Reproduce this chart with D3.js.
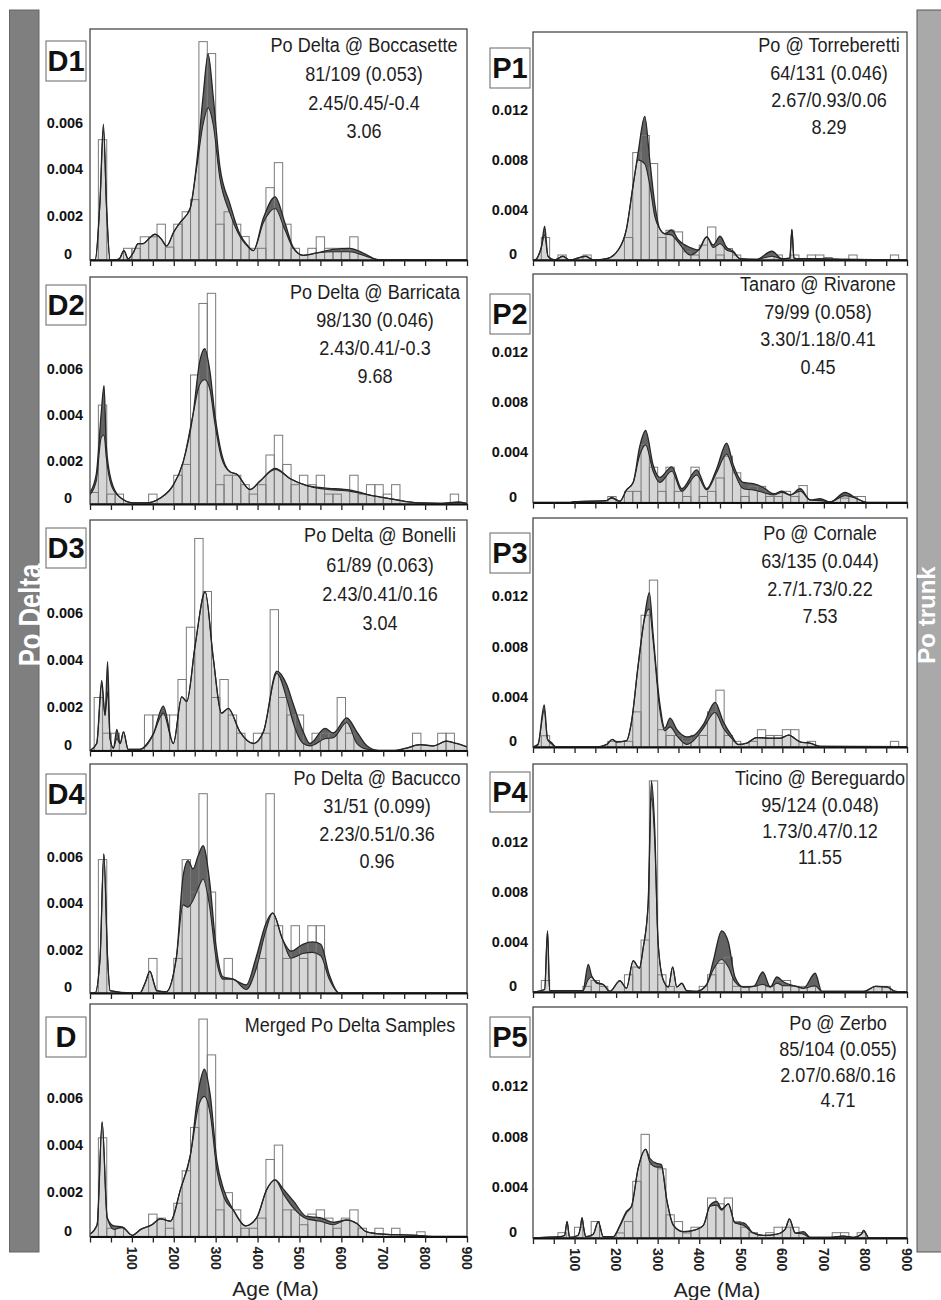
<!DOCTYPE html>
<html><head><meta charset="utf-8">
<script src="https://cdn.jsdelivr.net/npm/d3@7"></script>
<style>body{margin:0;background:#fff}svg{display:block}</style>
</head><body><svg id="c" width="941" height="1300"></svg>
<script>
// ---------- DATA (density values in units of 0.001) ----------
const leftTicks = [0, 2, 4, 6];
const rightTicks = [0, 4, 8, 12];
const xTickLabels = [100, 200, 300, 400, 500, 600, 700, 800, 900];

// D1 Po Delta @ Boccasette
const d1BarAge = [20,80,100,120,140,160,180,200,220,240,260,280,300,320,340,360,380,400,420,440,460,480,520,540,560,580,600,620];
const d1BarVal = [5.14,0.5,0.5,0.99,0.99,1.53,0.55,1.53,2.06,2.58,9.33,8.82,1.53,2.06,1.53,1.0,0.5,0.5,3.09,4.16,1.53,0.5,0.5,0.99,0.5,0.5,0.5,0.99];
const d1Age   = [0,12,24,32,40,48,60,70,81,91,103,115,127,140,155,170,183,200,215,239,255,270,282,294,310,334,358,375,390,414,442,465,485,509,541,581,620,652,684,700,900];
const d1Light = [0,0,2.5,5.6,2.0,0,0,0.05,0.4,0.05,0.3,0.7,0.7,0.9,1.1,0.9,0.6,1.2,1.6,2.2,4.0,5.8,6.5,5.8,3.5,2.0,1.0,0.6,0.4,1.6,2.2,1.3,0.5,0.2,0.3,0.35,0.35,0.2,0.02,0,0];
const d1Dark  = [0,0,2.6,5.8,2.1,0,0,0.05,0.4,0.05,0.3,0.7,0.7,0.9,1.1,0.9,0.6,1.2,1.6,2.2,4.2,7.0,8.8,7.0,4.0,2.4,1.1,0.65,0.4,1.8,2.7,1.6,0.55,0.2,0.3,0.45,0.5,0.3,0.03,0,0];

// D2 Po Delta @ Barricata
const d2BarAge = [0,20,40,60,140,200,220,240,260,280,300,320,340,360,380,400,420,440,460,480,500,520,540,560,580,620,640,660,680,700,720,860];
const d2BarVal = [0.5,4.30,0.43,0.43,0.43,1.25,1.72,5.61,8.72,9.16,0.84,1.25,1.25,0.84,0.43,0.84,2.13,2.99,1.72,0.84,1.25,0.84,1.25,0.43,0.43,1.25,0.43,0.84,0.84,0.43,0.84,0.43];
const d2Age   = [0,15,27,33.5,39,51,71,103,135,167,198,222,246,262,274,286,298,314,334,350,382,406,442,478,518,558,622,678,726,782,838,878,900];
const d2Light = [0.4,1.0,2.9,3.0,2.0,0.8,0.3,0.05,0.05,0.25,0.8,1.8,3.9,5.2,5.4,5.0,3.5,2.0,1.4,1.3,0.63,1.0,1.5,1.1,0.8,0.65,0.55,0.35,0.2,0.05,0.03,0.08,0.02];
const d2Dark  = [0.5,1.3,4.0,5.15,2.5,1.0,0.3,0.05,0.05,0.25,0.8,1.8,3.9,6.2,6.75,5.8,3.9,2.2,1.4,1.3,0.63,1.0,1.55,1.1,0.8,0.7,0.6,0.35,0.2,0.05,0.03,0.08,0.02];

// D3 Po Delta @ Bonelli
const d3BarAge = [10,30,50,130,150,170,190,210,230,250,270,290,310,330,350,390,410,430,450,470,490,530,550,570,590,610,770,830,850];
const d3BarVal = [2.27,0.74,0.74,1.52,1.52,1.52,1.52,3.04,5.28,9.08,6.81,2.27,3.04,1.52,0.74,0.74,0.74,6.03,2.27,1.52,1.52,0.74,0.74,0.74,2.27,0.74,0.74,0.74,0.74];
const d3Age   = [0,16,28,36,42,48,56,64,72,80,91,119,151,175,199,219,231,251,275,294,314,330,358,390,414,446,470,485,509,525,561,581,613,637,661,689,724,755,788,820,851,875,900];
const d3Light = [0,0.3,2.8,1.5,2.5,0.5,0.1,0.5,0.3,0.8,0.05,0.05,0.7,1.6,0.3,2.3,2.1,4.5,6.8,4.0,1.6,1.8,0.8,0.3,0.8,3.3,2.2,1.2,0.3,0.2,0.5,0.55,1.2,0.3,0.05,0,0,0.1,0.25,0.2,0.4,0.3,0.15];
const d3Dark  = [0,0.3,3.0,1.5,3.8,0.5,0.1,0.9,0.3,0.8,0.05,0.05,0.7,1.9,0.3,2.3,2.1,4.5,6.8,4.0,1.6,1.8,0.8,0.3,0.8,3.4,2.8,2.0,0.8,0.3,0.95,0.75,1.4,0.8,0.2,0,0,0.1,0.25,0.2,0.4,0.3,0.15];

// D4 Po Delta @ Bacucco
const d4BarAge = [20,140,200,220,240,260,280,320,400,420,440,460,480,500,520,540];
const d4BarVal = [5.75,1.49,1.49,5.75,4.35,8.59,4.35,1.49,1.49,8.59,2.90,1.49,2.90,1.49,2.90,2.90];
const d4Age   = [0,12,24,33,42,48,100,119,133,143,153,159,182,206,222,234,246,258,270,285,301,317,341,373,396,420,436,460,480,508,531,551,571,595,900];
const d4Light = [0,0,1.5,6.0,1.5,0.1,0,0,0.5,0.94,0.4,0.1,0.05,1.5,3.8,3.7,4.0,4.5,4.9,3.8,1.5,0.6,0.6,0.15,1.0,2.7,3.45,2.3,1.5,1.7,1.75,1.6,0.6,0,0];
const d4Dark  = [0,0,1.5,6.0,1.5,0.1,0,0,0.5,0.94,0.4,0.1,0.05,1.5,5.0,5.7,5.35,5.9,6.35,4.9,2.0,0.7,0.6,0.35,1.5,3.0,3.45,2.3,1.8,2.1,2.2,2.1,0.8,0,0];

// D Merged Po Delta Samples
const dmBarAge = [20,40,60,140,160,180,200,220,240,260,280,300,320,340,360,380,400,420,440,460,480,500,520,540,560,580,600,620,640,680,720,780];
const dmBarVal = [4.19,0.35,0.35,0.95,0.78,0.35,1.41,2.79,4.63,9.23,7.71,1.13,1.86,1.13,0.35,0.35,0.78,3.27,3.88,1.13,1.13,0.5,0.95,1.13,0.78,0.35,0.78,1.13,0.35,0.35,0.35,0.2];
const dmAge   = [0,17,29,41,57,77,101,121,148,168,192,216,240,260,273,287,303,319,343,371,398,422,442,462,486,517,549,581,613,637,660,700,779,819,900];
const dmLight = [0.1,0.5,4.86,0.8,0.3,0.4,0.05,0.3,0.5,0.75,0.65,2.0,3.5,5.6,5.95,5.2,2.8,1.7,1.1,0.45,0.8,2.0,2.4,1.8,1.2,0.75,0.65,0.5,0.7,0.55,0.2,0.1,0.05,0,0];
const dmDark  = [0.1,0.5,4.86,0.8,0.45,0.4,0.05,0.3,0.5,0.75,0.65,2.0,3.5,6.3,7.1,6.0,3.2,2.0,1.1,0.45,0.8,2.0,2.4,2.0,1.5,0.85,0.8,0.6,0.7,0.55,0.2,0.1,0.05,0,0];

// P1 Po @ Torreberetti
const p1BarAge = [20,60,120,220,240,260,280,300,320,340,360,380,400,420,440,460,480,580,620,660,680,700,760,860];
const p1BarVal = [1.8,0.4,0.4,1.8,8.6,9.97,7.72,1.8,2.38,2.25,0.66,0.4,1.19,2.64,0.4,0.92,0.4,0.4,0.4,0.4,0.4,0.2,0.4,0.4];
const p1Age   = [0,4,20,28,36,52,72,88,127,145,177,205,225,241,253,269,281,293,305,317,333,350,378,398,418,434,450,466,482,498,538,575,599,618,623,628,640,675,755,900];
const p1Light = [0,0,1.0,2.0,0.3,0,0.3,0,0.3,0,0.1,0.8,2.5,6.0,8.0,7.7,6.0,3.5,2.5,2.1,2.0,1.4,0.4,0.8,1.85,1.0,1.3,0.8,0.6,0.1,0.05,0.3,0.1,0.15,2.45,0.15,0.1,0.1,0.05,0];
const p1Dark  = [0,0,1.0,2.7,0.3,0,0.3,0,0.3,0,0.1,0.8,2.5,6.0,8.6,11.5,8.0,4.5,2.5,2.1,2.4,1.6,1.0,0.8,1.85,1.2,1.9,1.0,0.7,0.1,0.05,0.7,0.1,0.15,2.45,0.15,0.1,0.1,0.05,0];

// P2 Tanaro @ Rivarone
const p2BarAge = [180,220,240,260,280,300,320,340,360,380,400,420,440,460,480,500,520,540,560,580,600,620,640,740,760,780];
const p2BarVal = [0.48,0.89,0.89,4.63,2.82,0.89,2.82,0.89,0.48,2.82,0.48,0.89,1.96,3.70,2.37,0.48,1.29,1.29,0.48,0.48,0.89,0.48,1.35,0.35,0.48,0.48];
const p2Age   = [0,90,96,137,177,189,209,225,241,257,271,289,305,334,358,394,418,442,466,482,506,530,554,579,599,619,643,667,691,715,751,780,804,900];
const p2Light = [0,0,0.05,0.1,0.15,0.35,0.1,1.0,1.6,3.8,4.6,2.5,1.6,2.5,0.9,2.2,1.0,2.4,3.85,2.6,1.1,1.0,0.8,0.6,0.8,0.6,0.9,0.2,0.15,0.05,0.55,0.3,0,0];
const p2Dark  = [0,0,0.05,0.1,0.15,0.4,0.1,1.0,1.6,4.5,5.75,3.0,2.0,2.85,1.1,2.6,1.1,2.7,4.75,3.0,1.6,1.5,1.2,0.7,0.9,0.6,1.1,0.2,0.3,0.05,0.8,0.3,0,0];

// P3 Po @ Cornale
const p3BarAge = [20,180,200,220,240,260,280,300,320,340,360,380,400,420,440,460,480,520,540,560,580,600,620,660,860];
const p3BarVal = [0.9,0.45,0.45,0.45,2.8,10.5,13.3,1.38,0.92,0.92,0.45,0.92,0.92,2.8,4.53,0.92,0.45,0.45,1.38,0.92,0.92,1.38,1.38,0.45,0.45];
const p3Age   = [0,12,27,35,43,56,153,177,191,201,225,237,253,269,280,289,305,317,330,346,370,386,410,438,458,478,494,514,538,571,595,615,643,667,691,900];
const p3Light = [0,0.2,2.9,0.6,0.3,0,0,0.2,0.6,0.4,0.5,2.0,6.5,10.3,11.0,8.5,3.0,1.3,1.6,0.9,0.2,0.5,1.5,2.75,1.5,0.7,0.2,0.3,0.75,0.7,0.7,0.95,0.4,0.3,0.05,0.03];
const p3Dark  = [0,0.2,3.35,0.6,0.4,0,0,0.2,0.6,0.4,0.5,2.0,6.5,10.5,12.3,9.0,3.5,1.5,2.3,1.4,0.8,0.9,1.8,3.55,2.0,0.9,0.2,0.3,0.75,0.7,0.7,0.95,0.4,0.3,0.05,0.03];

// P4 Ticino @ Bereguardo
const p4BarAge = [20,120,140,160,220,240,260,280,300,320,400,420,440,460,480,500,520,560,580,600,620,640,660,820,840];
const p4BarVal = [0.92,0.45,0.92,0.45,1.38,2.0,4.16,16.9,1.38,0.45,0.45,1.38,2.3,2.78,0.45,0.45,0.45,0.45,0.92,0.92,0.45,0.45,0.45,0.45,0.45];
const p4Age   = [0,28,35,40,120,133,141,153,169,185,209,225,241,256,265,277,285,293,301,313,326,336,346,358,370,394,418,434,454,470,486,506,531,553,571,587,603,627,651,679,695,797,824,852,872,900];
const p4Light = [0,0.2,4.9,0.1,0.1,1.0,1.2,0.7,0.6,0.05,0.9,0.3,2.5,1.9,3.5,7.0,15.5,12.0,4.0,1.0,0.4,2.0,0.4,0.7,0.1,0.05,0.6,1.8,2.6,2.0,0.8,0.4,0.45,0.6,0.4,0.7,0.5,0.5,0.3,0.5,0.05,0.05,0.45,0.4,0.05,0];
const p4Dark  = [0,0.2,4.9,0.1,0.1,2.2,1.3,0.8,0.6,0.05,0.9,0.3,2.5,1.9,3.5,7.0,16.9,13.0,4.0,1.0,0.4,2.0,0.4,0.7,0.1,0.05,0.6,2.5,4.9,4.0,1.2,0.4,0.45,1.6,0.4,1.2,0.8,0.5,0.3,1.5,0.05,0.05,0.45,0.4,0.05,0];

// P5 Po @ Zerbo
const p5BarAge = [60,100,140,200,220,240,260,280,300,320,340,360,380,420,440,460,480,500,520,560,580,600,620,720,740,780];
const p5BarVal = [0.42,0.85,1.3,0.4,1.3,4.48,8.19,5.8,5.46,1.83,1.3,0.4,0.85,3.16,2.7,3.16,1.3,0.85,0.42,0.42,0.85,0.85,0.85,0.42,0.42,0.42];
const p5Age   = [0,28,64,76,82,88,108,114,118,122,127,145,157,169,193,209,225,237,253,271,281,297,309,322,338,362,386,410,426,442,454,470,486,506,530,555,587,607,617,631,651,667,715,747,772,790,796,802,808,900];
const p5Light = [0,0.05,0.1,0.2,1.3,0.05,0.2,0.8,1.6,0.8,0.1,0.3,1.3,0.1,0.1,0.9,2.0,2.5,5.5,7.0,6.0,5.6,5.6,3.0,1.0,0.5,0.6,1.0,2.5,2.6,2.2,2.7,1.2,1.0,0.4,0.2,0.3,0.7,1.5,0.4,0.3,0.05,0.05,0.15,0.05,0.3,0.6,0.3,0,0];
const p5Dark  = [0,0.05,0.1,0.2,1.3,0.05,0.2,0.8,1.6,0.8,0.1,0.3,1.3,0.1,0.1,1.0,2.1,2.5,5.5,7.0,6.3,5.9,5.8,3.0,1.0,0.5,0.6,1.0,2.6,2.9,2.3,2.7,1.2,1.2,0.4,0.2,0.3,0.7,1.5,0.4,0.5,0.05,0.05,0.15,0.05,0.3,0.6,0.3,0,0];

// Annotations
const d1Text = ["Po Delta @ Boccasette","81/109 (0.053)","2.45/0.45/-0.4","3.06"];
const d2Text = ["Po Delta @ Barricata","98/130 (0.046)","2.43/0.41/-0.3","9.68"];
const d3Text = ["Po Delta @ Bonelli","61/89 (0.063)","2.43/0.41/0.16","3.04"];
const d4Text = ["Po Delta @ Bacucco","31/51 (0.099)","2.23/0.51/0.36","0.96"];
const dmText = ["Merged Po Delta Samples"];
const p1Text = ["Po @ Torreberetti","64/131 (0.046)","2.67/0.93/0.06","8.29"];
const p2Text = ["Tanaro @ Rivarone","79/99 (0.058)","3.30/1.18/0.41","0.45"];
const p3Text = ["Po @ Cornale","63/135 (0.044)","2.7/1.73/0.22","7.53"];
const p4Text = ["Ticino @ Bereguardo","95/124 (0.048)","1.73/0.47/0.12","11.55"];
const p5Text = ["Po @ Zerbo","85/104 (0.055)","2.07/0.68/0.16","4.71"];

// ---------- LAYOUT ----------
const L = {x0: 90, x1: 467, ymax: 9.87, ticks: leftTicks, labX: 65, labOff: 3};
const R = {x0: 533, x1: 907, ymax: 18.25, ticks: rightTicks, labX: 510, labOff: 0};
const panels = [
  {side:L, name:"D1", top:29, base:260, boxY:41, ba:d1BarAge, bv:d1BarVal, a:d1Age, lt:d1Light, dk:d1Dark, txt:d1Text, cx:364, ty:45, step:28.7},
  {side:L, name:"D2", top:277, base:504, boxY:285, ba:d2BarAge, bv:d2BarVal, a:d2Age, lt:d2Light, dk:d2Dark, txt:d2Text, cx:375, ty:292, step:28},
  {side:L, name:"D3", top:520, base:750.5, boxY:528, ba:d3BarAge, bv:d3BarVal, a:d3Age, lt:d3Light, dk:d3Dark, txt:d3Text, cx:380, ty:535, step:29.3},
  {side:L, name:"D4", top:764, base:993, boxY:774, ba:d4BarAge, bv:d4BarVal, a:d4Age, lt:d4Light, dk:d4Dark, txt:d4Text, cx:377, ty:778, step:27.7},
  {side:L, name:"D", top:1004, base:1236.5, boxY:1017, ba:dmBarAge, bv:dmBarVal, a:dmAge, lt:dmLight, dk:dmDark, txt:dmText, cx:350, ty:1025, step:28, bottom:true},
  {side:R, name:"P1", top:32, base:260, boxY:48, ba:p1BarAge, bv:p1BarVal, a:p1Age, lt:p1Light, dk:p1Dark, txt:p1Text, cx:829, ty:45, step:27.3},
  {side:R, name:"P2", top:274, base:502.5, boxY:294, ba:p2BarAge, bv:p2BarVal, a:p2Age, lt:p2Light, dk:p2Dark, txt:p2Text, cx:818, ty:284, step:27.5},
  {side:R, name:"P3", top:518, base:747, boxY:533, ba:p3BarAge, bv:p3BarVal, a:p3Age, lt:p3Light, dk:p3Dark, txt:p3Text, cx:820, ty:533, step:27.7},
  {side:R, name:"P4", top:764, base:992, boxY:772, ba:p4BarAge, bv:p4BarVal, a:p4Age, lt:p4Light, dk:p4Dark, txt:p4Text, cx:820, ty:778, step:26.3},
  {side:R, name:"P5", top:1007, base:1238, boxY:1017, ba:p5BarAge, bv:p5BarVal, a:p5Age, lt:p5Light, dk:p5Dark, txt:p5Text, cx:838, ty:1023, step:25.7, bottom:true}
];

const svg = d3.select("#c");
const FONT = "'Liberation Sans', Arial, Helvetica, sans-serif";

// side bars
svg.append("rect").attr("x",9.5).attr("y",10).attr("width",29.5).attr("height",1242)
  .attr("fill","#7f7f7f").attr("stroke","#666");
svg.append("rect").attr("x",917).attr("y",10).attr("width",40).attr("height",1242)
  .attr("fill","#a9a9a9").attr("stroke","#555");
svg.append("text").attr("transform","translate(41,615) rotate(-90) scale(0.8,1)")
  .attr("text-anchor","middle").attr("font-family",FONT).attr("font-weight","bold")
  .attr("font-size",32).attr("fill","#fff").text("Po Delta");
svg.append("text").attr("transform","translate(935,615) rotate(-90)")
  .attr("text-anchor","middle").attr("font-family",FONT).attr("font-weight","bold")
  .attr("font-size",24).attr("fill","#fff").text("Po trunk");

panels.forEach((p, idx) => {
  const s = p.side;
  const x = d3.scaleLinear().domain([0, 900]).range([s.x0, s.x1]);
  const y = d3.scaleLinear().domain([0, s.ymax]).range([p.base, p.top]);
  const g = svg.append("g");
  const clip = "clip" + idx;
  g.append("clipPath").attr("id", clip).append("rect")
    .attr("x", s.x0).attr("y", p.top).attr("width", s.x1 - s.x0).attr("height", p.base - p.top);

  g.append("rect").attr("x", s.x0).attr("y", p.top).attr("width", s.x1 - s.x0).attr("height", p.base - p.top)
    .attr("fill", "#fff");

  const pts = p.a.map((a, i) => ({a, l: p.lt[i], d: p.dk[i]}));
  const inner = g.append("g").attr("clip-path", `url(#${clip})`);
  const curve = d3.curveMonotoneX;
  const areaDark = d3.area().x(d => x(d.a)).y0(y(0)).y1(d => y(d.d)).curve(curve);
  const areaLight = d3.area().x(d => x(d.a)).y0(y(0)).y1(d => y(d.l)).curve(curve);
  const lineDark = d3.line().x(d => x(d.a)).y(d => y(d.d)).curve(curve);
  const lineLight = d3.line().x(d => x(d.a)).y(d => y(d.l)).curve(curve);

  inner.append("path").datum(pts).attr("d", areaDark).attr("fill", "#636363");
  inner.append("path").datum(pts).attr("d", areaLight).attr("fill", "#d6d6d6");

  const bars = p.ba.map((a, i) => ({a, v: p.bv[i]}));
  inner.selectAll("rect.bar").data(bars).join("rect").attr("class","bar")
    .attr("x", d => x(d.a)).attr("width", d => x(d.a + 20) - x(d.a))
    .attr("y", d => y(d.v)).attr("height", d => y(0) - y(d.v))
    .attr("fill", "none").attr("stroke", "#7a7a7a").attr("stroke-width", 1);

  inner.append("path").datum(pts).attr("d", lineDark).attr("fill","none").attr("stroke","#262626").attr("stroke-width",1.3);
  inner.append("path").datum(pts).attr("d", lineLight).attr("fill","none").attr("stroke","#262626").attr("stroke-width",1.1);

  // frame
  g.append("rect").attr("x", s.x0).attr("y", p.top).attr("width", s.x1 - s.x0).attr("height", p.base - p.top)
    .attr("fill", "none").attr("stroke", "#3a3a3a").attr("stroke-width", 1.2);

  // x axis
  const ax = g.append("g").attr("transform", `translate(0,${p.base})`)
    .call(d3.axisBottom(x).tickValues(d3.range(0, 901, 50)).tickSize(6).tickSizeOuter(0).tickFormat(""));
  ax.select(".domain").attr("stroke", "#111").attr("stroke-width", 2);
  ax.selectAll(".tick line").attr("stroke", "#222").attr("stroke-width", 1.3);

  if (p.bottom) {
    g.selectAll("text.xl").data(xTickLabels).join("text").attr("class","xl")
      .attr("transform", d => `translate(${x(d) - 5},${p.base + 10}) rotate(90)`)
      .attr("font-family", FONT).attr("font-weight","bold").attr("font-size", 14).attr("fill","#222")
      .text(d => d);
    g.append("text").attr("x", (s.x0 + s.x1) / 2 - 3).attr("y", p.base + 59)
      .attr("text-anchor","middle").attr("font-family", FONT).attr("font-size", 21).attr("fill","#222")
      .text("Age (Ma)");
  }

  // y labels
  g.selectAll("text.yl").data(s.ticks).join("text").attr("class","yl")
    .attr("x", d => d === 0 ? s.labX + 3 : s.labX)
    .attr("y", d => d === 0 ? p.base - 6 : y(d) + s.labOff)
    .attr("dy", "0.35em").attr("text-anchor","middle")
    .attr("font-family", FONT).attr("font-weight","bold").attr("font-size", 14.5).attr("fill","#111")
    .text(d => d === 0 ? "0" : (d / 1000).toFixed(3));

  // panel label box
  const bx = s === L ? 46 : 490;
  g.append("rect").attr("x", bx).attr("y", p.boxY).attr("width", 40).attr("height", 40)
    .attr("fill","#fff").attr("stroke","#666").attr("stroke-width",1);
  g.append("text").attr("x", bx + 20).attr("y", p.boxY + 20).attr("dy","0.36em")
    .attr("text-anchor","middle").attr("font-family", FONT).attr("font-weight","bold")
    .attr("font-size", 29).attr("fill","#111").text(p.name);

  // annotation
  const ag = g.append("g").attr("transform", `translate(${p.cx},0) scale(0.86,1)`);
  ag.selectAll("text").data(p.txt).join("text")
    .attr("x", 0).attr("y", (d, i) => p.ty + i * p.step).attr("dy","0.35em")
    .attr("text-anchor","middle").attr("font-family", FONT).attr("font-size", 21).attr("fill","#1e1e1e")
    .text(d => d);
});
</script></body></html>
